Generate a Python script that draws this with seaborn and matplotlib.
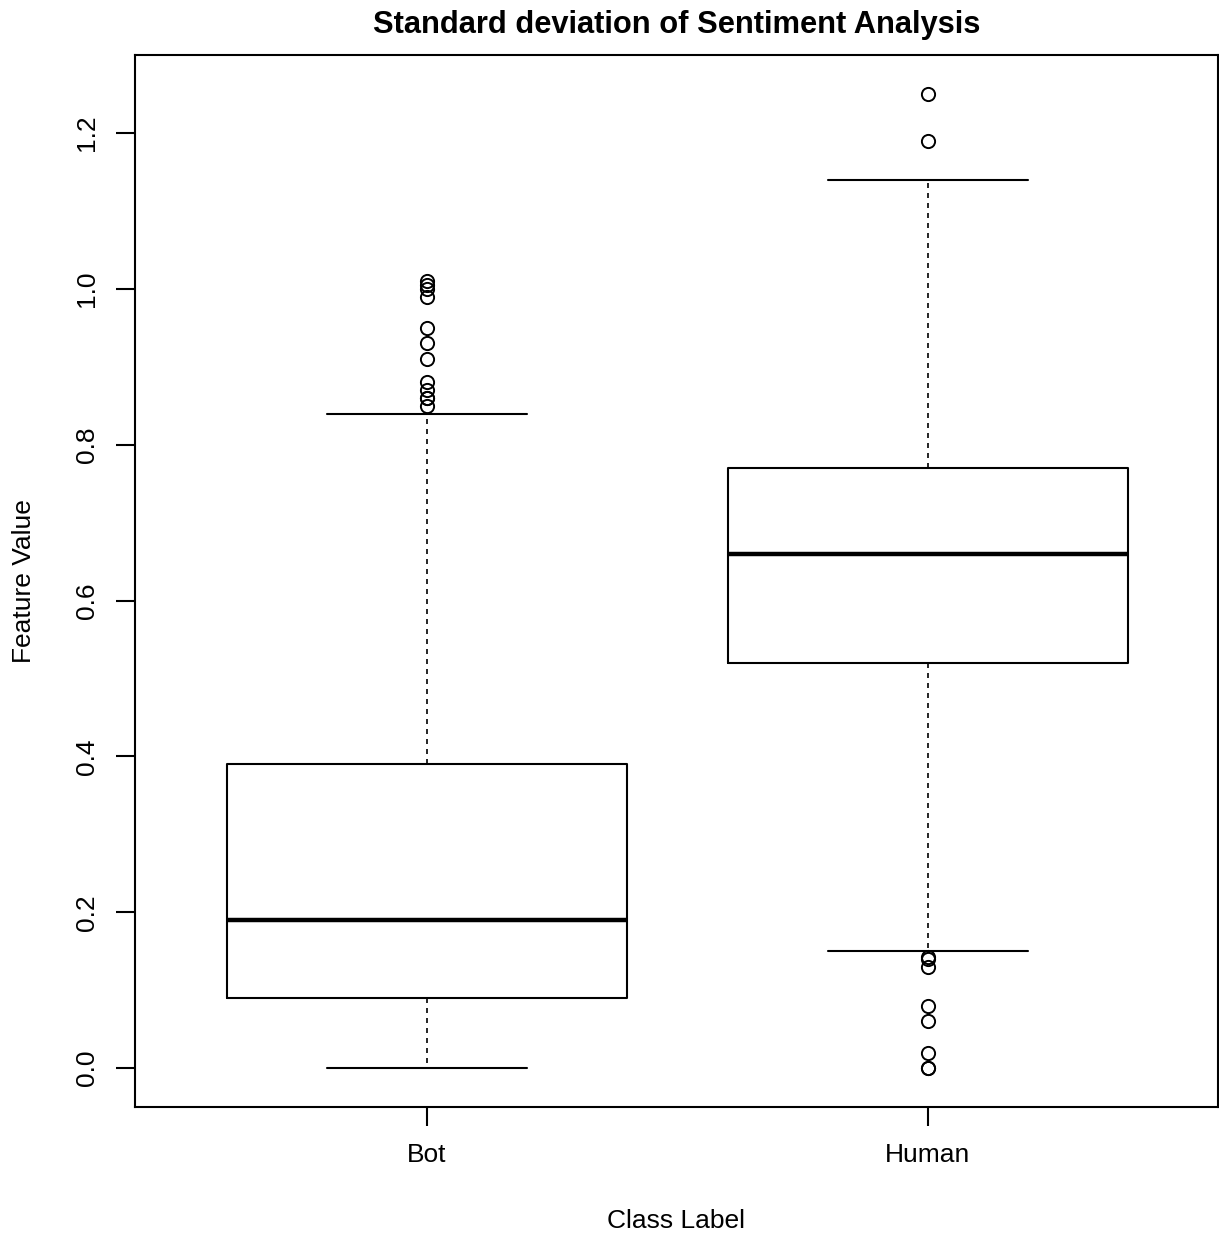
import matplotlib
matplotlib.use("Agg")
import matplotlib.pyplot as plt
import seaborn as sns

# -----------------------------------------
# Data
# -----------------------------------------

classes = ["Bot", "Human"]
whisker_low = [0.00, 0.15]
q1 = [0.09, 0.52]
median = [0.19, 0.66]
q3 = [0.39, 0.77]
whisker_high = [0.84, 1.14]
bot_outliers = [1.01, 1.005, 1.00, 0.99, 0.95, 0.93, 0.91, 0.88, 0.87, 0.86, 0.86, 0.85]
human_outliers = [1.25, 1.19, 0.142, 0.14, 0.13, 0.08, 0.06, 0.02, 0.0, 0.0]

y_ticks = [0.0, 0.2, 0.4, 0.6, 0.8, 1.0, 1.2]

# -----------------------------------------
# Style
# -----------------------------------------

sns.set_style("white")
plt.rcParams["font.family"] = ["Liberation Sans", "DejaVu Sans"]
plt.rcParams["text.color"] = "black"
plt.rcParams["axes.labelcolor"] = "black"

stats = []
for i, name in enumerate(classes):
    stats.append({
        "label": name,
        "whislo": whisker_low[i],
        "q1": q1[i],
        "med": median[i],
        "q3": q3[i],
        "whishi": whisker_high[i],
        "fliers": bot_outliers if i == 0 else human_outliers,
    })

fig = plt.figure(figsize=(12.19, 12.35), dpi=100)
ax = fig.add_axes([0.1107, 0.1036, 0.8884, 0.8518])

ax.bxp(
    stats,
    positions=[1, 2],
    widths=0.8,
    showfliers=True,
    boxprops=dict(color="black", linewidth=1.5),
    medianprops=dict(color="black", linewidth=3.2),
    whiskerprops=dict(color="black", linewidth=1.2, linestyle=(0, (3, 3))),
    capprops=dict(color="black", linewidth=1.5),
    capwidths=0.4,
    flierprops=dict(marker="o", markerfacecolor="none", markeredgecolor="black",
                    markersize=9.5, markeredgewidth=1.4, linestyle="none"),
)

ax.set_xlim(0.417, 2.579)
ax.set_ylim(-0.05, 1.30)
ax.set_yticks(y_ticks)
ax.set_yticklabels([f"{v:.1f}" for v in y_ticks], rotation=90, va="center")
ax.set_xticks([1, 2])
ax.set_xticklabels(classes)

ax.tick_params(axis="both", direction="out", length=14, width=1.5,
               labelsize=19, colors="black", left=True, bottom=True)
ax.tick_params(axis="y", pad=12)
ax.tick_params(axis="x", pad=12)

for spine in ax.spines.values():
    spine.set_visible(True)
    spine.set_color("black")
    spine.set_linewidth(1.5)

ax.set_xlabel("Class Label", fontsize=19, labelpad=30, color="black")
ax.set_ylabel("Feature Value", fontsize=19, labelpad=28, color="black")
ax.set_title("Standard deviation of Sentiment Analysis", fontsize=22.2,
             fontweight="bold", pad=16, color="black")

fig.savefig("out.png", dpi=100, facecolor="white")
